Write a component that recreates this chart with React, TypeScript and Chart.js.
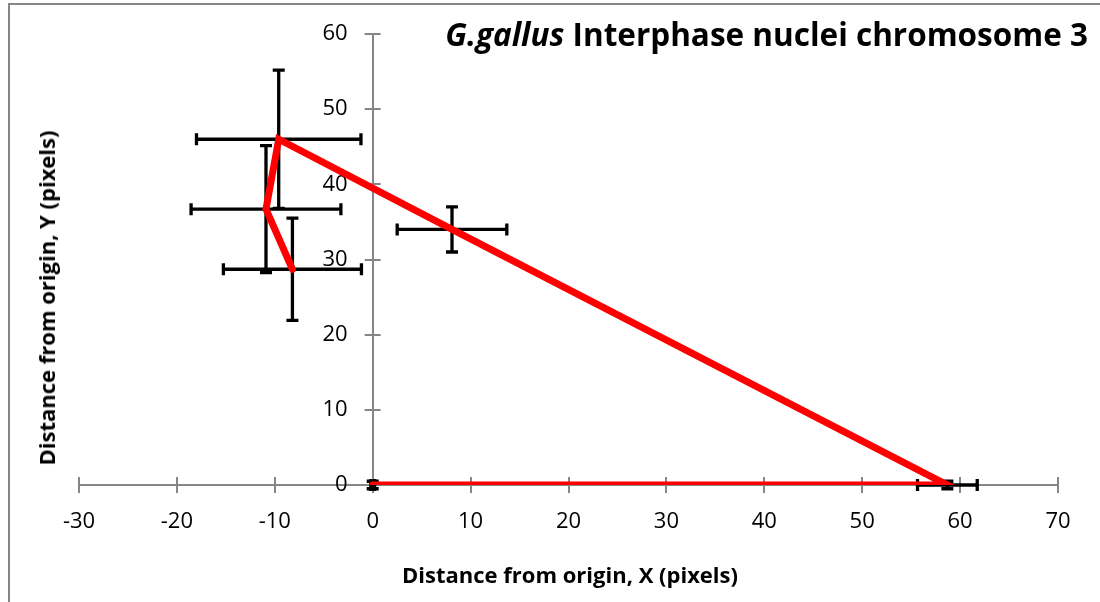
import React, { useEffect, useRef } from "react";
import { Chart, registerables } from "chart.js";

Chart.register(...registerables);

// Data (pixels from origin)
const xValues = [0, 58.7, 8.1, -9.6, -10.9, -8.2];
const yValues = [0, 0, 34.0, 46.0, 36.7, 28.7];
const xErrors = [0.2, 3.05, 5.6, 8.4, 7.65, 7.05];
const yErrors = [0.5, 0.5, 3.0, 9.2, 8.45, 6.8];

const xMin = -30;
const xMax = 70;
const yMin = 0;
const yMax = 60;
const tickStep = 10;

const titleItalic = "G.gallus";
const titleRest = " Interphase nuclei chromosome 3";
const xTitle = "Distance from origin, X (pixels)";
const yTitle = "Distance from origin, Y (pixels)";

const AXIS_GRAY = "#868686";
const FONT = "'Open Sans', sans-serif";
const TICK_SIZE = 22;

const errorBarPlugin = {
  id: "errorBars",
  beforeDatasetsDraw(chart: any) {
    const ctx = chart.ctx;
    const xs = chart.scales.x;
    const ys = chart.scales.y;
    const y0 = ys.getPixelForValue(0);
    const x0 = xs.getPixelForValue(0);

    // cross tick marks
    ctx.save();
    ctx.strokeStyle = AXIS_GRAY;
    ctx.lineWidth = 2;
    xs.ticks.forEach((t: any) => {
      const px = Math.round(xs.getPixelForValue(t.value));
      ctx.beginPath();
      ctx.moveTo(px, y0 - 8);
      ctx.lineTo(px, y0 + 8);
      ctx.stroke();
    });
    ys.ticks.forEach((t: any) => {
      const py = Math.round(ys.getPixelForValue(t.value));
      ctx.beginPath();
      ctx.moveTo(x0 - 8, py);
      ctx.lineTo(x0 + 8, py);
      ctx.stroke();
    });
    // y tick labels, to the left of the centred axis
    ctx.fillStyle = "#000000";
    ctx.font = `${TICK_SIZE}px ${FONT}`;
    ctx.textAlign = "right";
    ctx.textBaseline = "middle";
    ys.ticks.forEach((t: any) => {
      const py = ys.getPixelForValue(t.value);
      ctx.fillText(String(t.label), x0 - 25, py);
    });
    ctx.restore();

    // error bars
    ctx.save();
    ctx.strokeStyle = "#000000";
    ctx.lineWidth = 3.3;
    ctx.lineCap = "butt";
    const cap = 6;
    xValues.forEach((xv, i) => {
      const yv = yValues[i];
      const px = xs.getPixelForValue(xv);
      const py = ys.getPixelForValue(yv);
      const pxL = xs.getPixelForValue(xv - xErrors[i]);
      const pxR = xs.getPixelForValue(xv + xErrors[i]);
      const pyT = ys.getPixelForValue(yv + yErrors[i]);
      const pyB = ys.getPixelForValue(yv - yErrors[i]);
      ctx.beginPath();
      ctx.moveTo(pxL, py);
      ctx.lineTo(pxR, py);
      ctx.moveTo(pxL, py - cap);
      ctx.lineTo(pxL, py + cap);
      ctx.moveTo(pxR, py - cap);
      ctx.lineTo(pxR, py + cap);
      ctx.moveTo(px, pyT);
      ctx.lineTo(px, pyB);
      ctx.moveTo(px - cap, pyT);
      ctx.lineTo(px + cap, pyT);
      ctx.moveTo(px - cap, pyB);
      ctx.lineTo(px + cap, pyB);
      ctx.stroke();
    });
    ctx.restore();
  },
  afterDraw(chart: any) {
    const ctx = chart.ctx;
    ctx.save();
    ctx.strokeStyle = AXIS_GRAY;
    ctx.lineWidth = 2;
    ctx.strokeRect(9, 4, 1200, 1200);
    ctx.restore();
  },
};

export default function App() {
  const canvasRef = useRef<HTMLCanvasElement | null>(null);

  useEffect(() => {
    if (!canvasRef.current) return;
    const points = xValues.map((x, i) => ({ x, y: yValues[i] }));
    const tickFont = { family: FONT, size: TICK_SIZE };
    const chart = new Chart(canvasRef.current, {
      type: "scatter",
      data: {
        datasets: [
          {
            data: points,
            showLine: true,
            borderColor: "#FF0000",
            backgroundColor: "#FF0000",
            borderWidth: 7,
            borderCapStyle: "round",
            borderJoinStyle: "miter",
            pointRadius: 0,
            pointHoverRadius: 0,
            tension: 0,
          },
        ],
      },
      options: {
        animation: false,
        responsive: false,
        maintainAspectRatio: false,
        layout: { padding: { left: 79, top: 34, right: 42, bottom: 117 } },
        plugins: {
          legend: { display: false },
          tooltip: { enabled: false },
          title: { display: false },
        },
        scales: {
          x: {
            type: "linear",
            position: { y: 0 } as any,
            min: xMin,
            max: xMax,
            grid: { display: false, drawTicks: false },
            border: { display: true, color: AXIS_GRAY, width: 2 },
            ticks: {
              stepSize: tickStep,
              color: "#000000",
              font: tickFont,
              padding: 24,
              maxRotation: 0,
            },
          },
          y: {
            type: "linear",
            position: { x: 0 } as any,
            min: yMin,
            max: yMax,
            grid: { display: false, drawTicks: false },
            border: { display: true, color: AXIS_GRAY, width: 2 },
            ticks: {
              display: false,
              stepSize: tickStep,
              color: "#000000",
              font: tickFont,
            },
          },
        },
      },
      plugins: [errorBarPlugin],
    });
    return () => chart.destroy();
  }, []);

  return (
    <div
      style={{
        position: "fixed",
        left: 0,
        top: 0,
        width: 1100,
        height: 602,
        background: "#ffffff",
        overflow: "hidden",
      }}
    >
      <canvas ref={canvasRef} width={1100} height={602} style={{ display: "block" }} />
      <div
        style={{
          position: "absolute",
          right: 12,
          top: 13,
          fontFamily: FONT,
          fontWeight: 700,
          fontSize: 31.5,
          lineHeight: "42px",
          whiteSpace: "nowrap",
          color: "#000",
        }}
      >
        <span style={{ fontStyle: "italic" }}>{titleItalic}</span>
        {titleRest}
      </div>
      <div
        style={{
          position: "absolute",
          left: 570,
          top: 574,
          transform: "translate(-50%, -50%)",
          fontFamily: FONT,
          fontWeight: 700,
          fontSize: 22,
          whiteSpace: "nowrap",
          color: "#000",
        }}
      >
        {xTitle}
      </div>
      <div
        style={{
          position: "absolute",
          left: 46,
          top: 298,
          transform: "translate(-50%, -50%) rotate(-90deg)",
          fontFamily: FONT,
          fontWeight: 700,
          fontSize: 22,
          whiteSpace: "nowrap",
          color: "#000",
        }}
      >
        {yTitle}
      </div>
    </div>
  );
}
